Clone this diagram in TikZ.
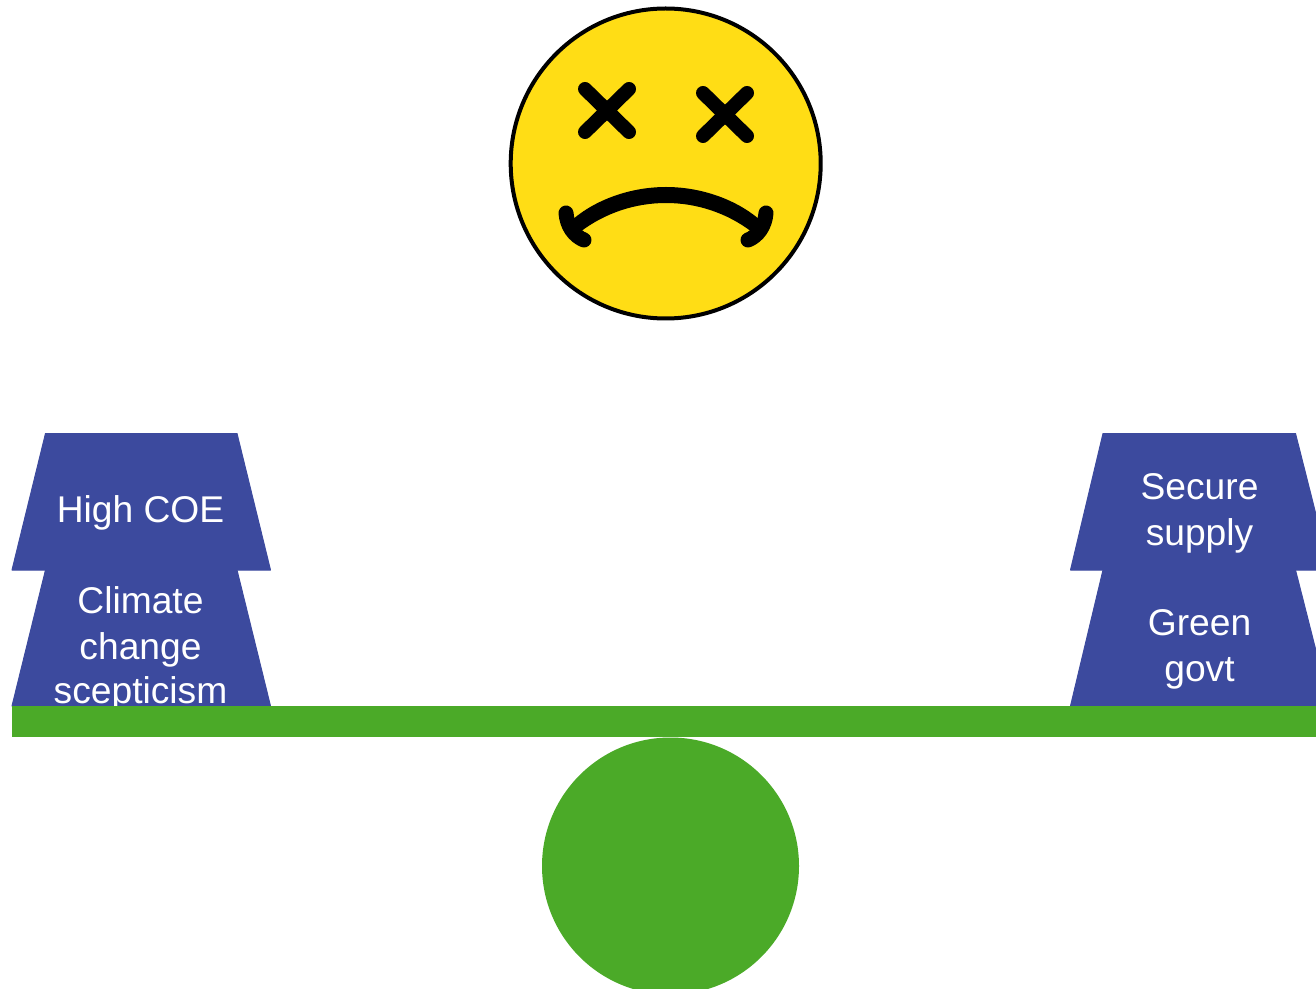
\documentclass[tikz,border=0pt]{standalone}
\usepackage{fontspec}
\setmainfont{Liberation Sans}
\definecolor{blk}{HTML}{3C4A9E}
\definecolor{grn}{HTML}{4BAA28}
\definecolor{yel}{HTML}{FFDD15}
\tikzset{
  block/.style={fill=blk,draw=blk,line width=0.5pt,line join=round},
  lbl/.style={text=white,align=center,inner sep=0pt,font=\fontsize{18.6pt}{23pt}\selectfont},
  ink/.style={draw=black,line cap=round,line join=round},
}
\begin{document}
\begin{tikzpicture}[x=0.5pt,y=-0.5pt]
\useasboundingbox (0,0) rectangle (1316,989);
\clip (0,0) rectangle (1316,989);
% face
\filldraw[fill=yel,draw=black,line width=2pt] (665.7,163.5) circle (155);
\draw[ink,line width=7pt] (585,89) -- (629,132);
\draw[ink,line width=7pt] (629,89) -- (585,132);
\draw[ink,line width=7pt] (703,93) -- (747,136);
\draw[ink,line width=7pt] (747,93) -- (703,136);
\fill[black] (572,220) .. controls (595,200) and (630,187) .. (666,187) .. controls (702,187) and (737,200) .. (760,220)
  -- (752,232) .. controls (727,213) and (697,203) .. (666,203) .. controls (635,203) and (605,213) .. (580,232) -- cycle;
\draw[ink,line width=7.5pt] (566,213) .. controls (567,226) and (574,236) .. (584,240);
\draw[ink,line width=7.5pt] (766,213) .. controls (765,226) and (758,236) .. (748,240);
% left stack
\path[block] (45.5,433.5) -- (237,433.5) -- (270.5,570) -- (12,570) -- cycle;
\path[block] (45.5,570) -- (237,570) -- (270.5,706) -- (12,706) -- cycle;
\node[lbl] (coe) at (140.5,513) {High COE};
\node[lbl] (climate) at (140.5,649) {Climate\\change\\[-1pt]scepticism};
% right stack
\path[block] (1103,433.5) -- (1295.5,433.5) -- (1330,570) -- (1070.5,570) -- cycle;
\path[block] (1103,570) -- (1295.5,570) -- (1330,706) -- (1070.5,706) -- cycle;
\node[lbl] (supply) at (1199.5,513) {Secure\\supply};
\node[lbl] (govt) at (1199.5,649) {Green\\govt};
% seesaw
\fill[grn] (12,706) rectangle (1316,737);
\fill[grn] (670.5,866) circle (128.5);
\end{tikzpicture}
\end{document}
